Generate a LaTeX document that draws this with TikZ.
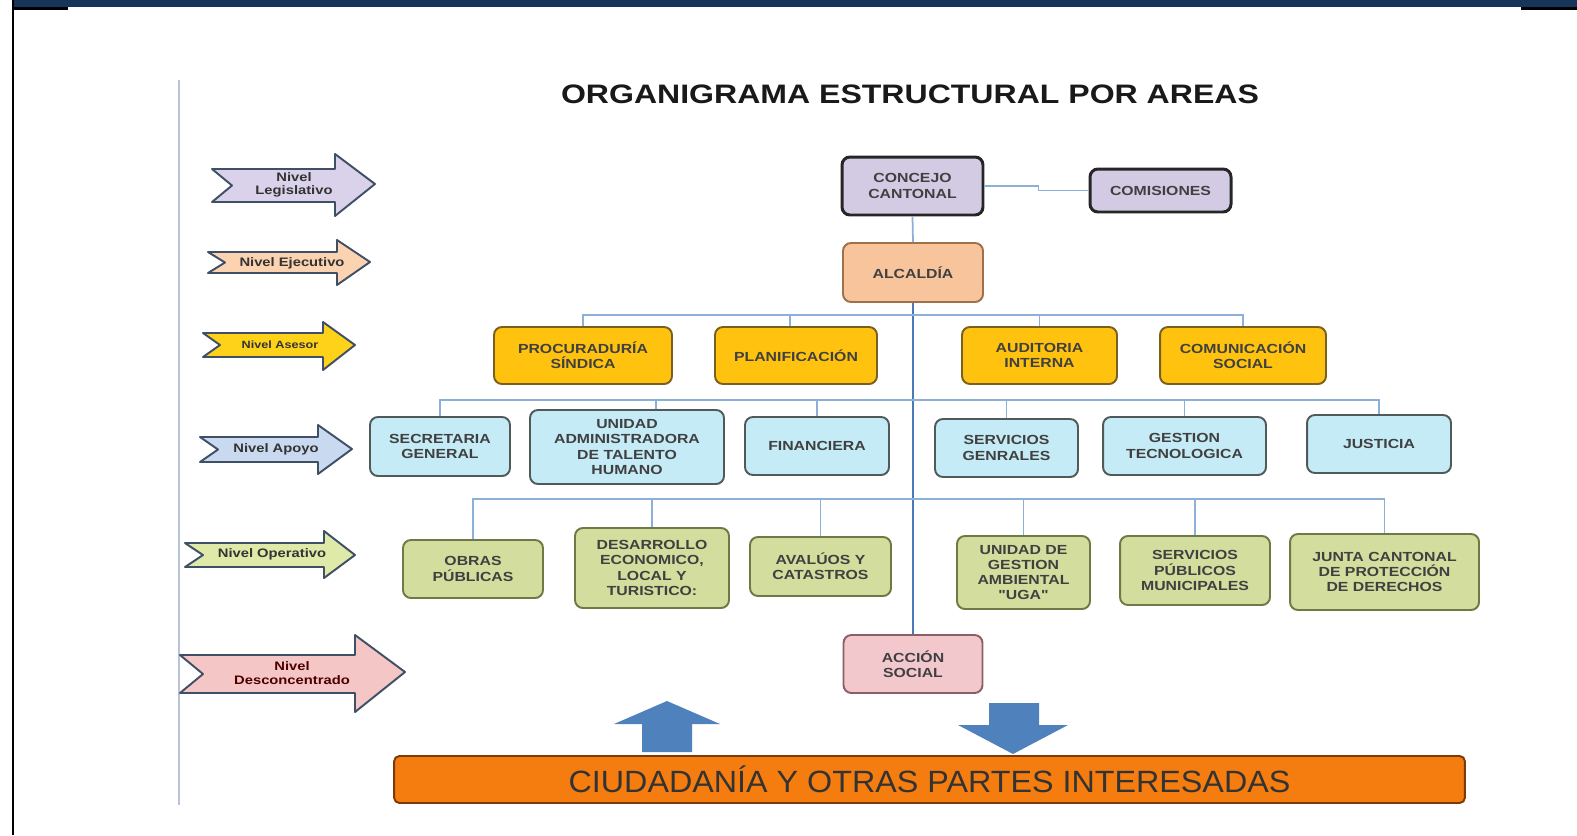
\documentclass[tikz,border=0pt]{standalone}
\usepackage{fontspec}
\setmainfont{Liberation Sans}
\newfontfamily\orgfont{Liberation Sans}[FakeStretch=1.2]
\newfontfamily\barfont{Liberation Sans}[FakeStretch=1.05]

\definecolor{headnavy}{HTML}{17345A}
\definecolor{lavbox}{HTML}{D3CBE4}
\definecolor{peachbox}{HTML}{F8C49C}
\definecolor{peachdraw}{HTML}{A0704A}
\definecolor{yellowbox}{HTML}{FFC20E}
\definecolor{yellowdraw}{HTML}{7A6020}
\definecolor{bluebox}{HTML}{C5EBF7}
\definecolor{bluedraw}{HTML}{505A5A}
\definecolor{greenbox}{HTML}{D2DD9E}
\definecolor{greendraw}{HTML}{6D7A45}
\definecolor{pinkbox}{HTML}{F2C8CD}
\definecolor{pinkdraw}{HTML}{8A6065}
\definecolor{barorange}{HTML}{F57D10}
\definecolor{bardraw}{HTML}{7A3A0A}
\definecolor{linkblue}{HTML}{8DB0D8}
\definecolor{spineblue}{HTML}{4A7AB8}
\definecolor{arrowblue}{HTML}{4F81BD}
\definecolor{leftline}{HTML}{B8C4DC}
\definecolor{nivdraw}{HTML}{3F4F66}
\definecolor{nivlegis}{HTML}{D9D2EA}
\definecolor{nivejec}{HTML}{FBD3B0}
\definecolor{nivasesor}{HTML}{FFD21A}
\definecolor{nivapoyo}{HTML}{C9D9F0}
\definecolor{nivoper}{HTML}{DFE9A8}
\definecolor{nivdescon}{HTML}{F5C6C6}

\tikzstyle{unit} = [rectangle, rounded corners=4.5pt, line width=1.1pt, align=center, text=black!75, font=\orgfont\bfseries\fontsize{7.5}{8.6}\selectfont, inner sep=1pt]
\tikzstyle{legis} = [unit, draw=black!85, line width=1.7pt, fill=lavbox]
\tikzstyle{ejec} = [unit, draw=peachdraw, fill=peachbox]
\tikzstyle{asesor} = [unit, draw=yellowdraw, fill=yellowbox]
\tikzstyle{apoyo} = [unit, draw=bluedraw, fill=bluebox]
\tikzstyle{operativo} = [unit, draw=greendraw, fill=greenbox]
\tikzstyle{descon} = [unit, draw=pinkdraw, fill=pinkbox]
\tikzstyle{link} = [line width=1pt, draw=linkblue]
\tikzstyle{spine} = [line width=1.2pt, draw=spineblue]
\tikzstyle{nivel} = [draw=nivdraw, line width=1.1pt, line join=round]
\tikzstyle{nivtext} = [align=center, font=\orgfont\bfseries\fontsize{7}{7.6}\selectfont, text=black!80]
\tikzstyle{bigarrow} = [fill=arrowblue]

\begin{document}
\begin{tikzpicture}[x=0.02cm, y=-0.02cm]
	\useasboundingbox (0,0) rectangle (1577,835);
	
	% Marco
	\fill [headnavy] (13,0) rectangle (1577,7.3);
	\fill [black] (13,7.3) rectangle (68,10);
	\fill [black] (1521,7.3) rectangle (1577,10);
	\fill [black] (12,0) rectangle (14,835);
	\draw [line width=1pt, draw=leftline] (179,80) -- (179,805);
	
	% Titulo
	\node (titulo) [font=\orgfont\bfseries\fontsize{15.2}{18}\selectfont, text=black!90] at (910,94) {ORGANIGRAMA ESTRUCTURAL POR AREAS};
	
	% Niveles (flechas)
	\draw [nivel, fill=nivlegis] (212,169) -- (335,169) -- (335,154) -- (375,184) -- (335,216) -- (335,202) -- (212,202) -- (232,185.5) -- cycle;
	\node (nlegis) [nivtext] at (294,185) {Nivel\\Legislativo};
	\draw [nivel, fill=nivejec] (208,252) -- (337,252) -- (337,240) -- (370,262) -- (337,285) -- (337,273) -- (208,273) -- (225,262.5) -- cycle;
	\node (nejec) [nivtext] at (292,263) {Nivel Ejecutivo};
	\draw [nivel, fill=nivasesor] (203,333) -- (323,333) -- (323,322) -- (355,345) -- (323,370) -- (323,357) -- (203,357) -- (220,345) -- cycle;
	\node (nasesor) [nivtext, font=\orgfont\bfseries\fontsize{6}{7}\selectfont] at (280,345) {Nivel Asesor};
	\draw [nivel, fill=nivapoyo] (200,437) -- (318,437) -- (318,425) -- (352,449) -- (318,474) -- (318,462) -- (200,462) -- (218,449.5) -- cycle;
	\node (napoyo) [nivtext] at (276,449) {Nivel Apoyo};
	\draw [nivel, fill=nivoper] (185,543) -- (324,543) -- (324,531) -- (355,555) -- (324,578) -- (324,567) -- (185,567) -- (203,555) -- cycle;
	\node (noper) [nivtext] at (272,554) {Nivel Operativo};
	\draw [nivel, fill=nivdescon] (180,655) -- (355,655) -- (355,635) -- (405,672) -- (355,712) -- (355,693) -- (180,693) -- (203,674) -- cycle;
	\node (ndescon) [nivtext, text=red!30!black] at (292,673) {Nivel\\Desconcentrado};
	
	% Nivel legislativo y ejecutivo
	\node (concejo) [legis, minimum width=2.82cm, minimum height=1.16cm] at (912.5,186) {CONCEJO\\CANTONAL};
	\node (comisiones) [legis, minimum width=2.82cm, minimum height=0.86cm] at (1160.5,190.5) {COMISIONES};
	\node (alcaldia) [ejec, minimum width=2.8cm, minimum height=1.18cm] at (913,272.5) {ALCALDÍA};
	
	% Nivel asesor
	\node (procuraduria) [asesor, minimum width=3.56cm, minimum height=1.14cm] at (583,355.5) {PROCURADURÍA\\SÍNDICA};
	\node (planificacion) [asesor, minimum width=3.24cm, minimum height=1.14cm] at (796,355.5) {PLANIFICACIÓN};
	\node (auditoria) [asesor, minimum width=3.1cm, minimum height=1.14cm] at (1039.5,355.5) {AUDITORIA\\INTERNA};
	\node (comunicacion) [asesor, minimum width=3.32cm, minimum height=1.14cm] at (1243,355.5) {COMUNICACIÓN\\SOCIAL};
	
	% Nivel apoyo
	\node (secretaria) [apoyo, minimum width=2.8cm, minimum height=1.18cm] at (440,446.5) {SECRETARIA\\GENERAL};
	\node (talento) [apoyo, minimum width=3.88cm, minimum height=1.48cm] at (627,447) {UNIDAD\\ADMINISTRADORA\\DE TALENTO\\HUMANO};
	\node (financiera) [apoyo, minimum width=2.88cm, minimum height=1.16cm] at (817,446) {FINANCIERA};
	\node (servgen) [apoyo, minimum width=2.86cm, minimum height=1.16cm] at (1006.5,448) {SERVICIOS\\GENRALES};
	\node (gestion) [apoyo, minimum width=3.26cm, minimum height=1.16cm] at (1184.5,446) {GESTION\\TECNOLOGICA};
	\node (justicia) [apoyo, minimum width=2.88cm, minimum height=1.16cm] at (1379,444) {JUSTICIA};
	
	% Nivel operativo
	\node (obras) [operativo, minimum width=2.8cm, minimum height=1.16cm] at (473,569) {OBRAS\\PÚBLICAS};
	\node (desarrollo) [operativo, minimum width=3.08cm, minimum height=1.6cm] at (652,568) {DESARROLLO\\ECONOMICO,\\LOCAL Y\\TURISTICO:};
	\node (avaluos) [operativo, minimum width=2.82cm, minimum height=1.18cm] at (820.5,566.5) {AVALÚOS Y\\CATASTROS};
	\node (uga) [operativo, minimum width=2.66cm, minimum height=1.46cm] at (1023.5,572.5) {UNIDAD DE\\GESTION\\AMBIENTAL\\"UGA"};
	\node (servpub) [operativo, minimum width=3.0cm, minimum height=1.38cm] at (1195,570.5) {SERVICIOS\\PÚBLICOS\\MUNICIPALES};
	\node (junta) [operativo, minimum width=3.78cm, minimum height=1.52cm] at (1384.5,572) {JUNTA CANTONAL\\DE PROTECCIÓN\\DE DERECHOS};
	
	% Nivel desconcentrado
	\node (accion) [descon, minimum width=2.78cm, minimum height=1.16cm] at (913,664) {ACCIÓN\\SOCIAL};
	
	% Ciudadania
	\node (ciudadania) [rectangle, rounded corners=3pt, draw=bardraw, line width=1.1pt, fill=barorange, minimum width=21.42cm, minimum height=0.94cm, font=\barfont\fontsize{17.5}{20}\selectfont, text=black!80] at (929.5,779.5) {CIUDADANÍA Y OTRAS PARTES INTERESADAS};
	\fill [bigarrow] (642,752) -- (642,724) -- (614,724) -- (667,701) -- (720,724) -- (692,724) -- (692,752) -- cycle;
	\fill [bigarrow] (989,703) -- (1039,703) -- (1039,725) -- (1068,725) -- (1013,754) -- (958,725) -- (989,725) -- cycle;
	
	% Barras de conexion
	\coordinate (bus1) at (913,315);
	\coordinate (bus2) at (913,400);
	\coordinate (bus3) at (913,499);
	
	\draw [link] (concejo.south) -- (alcaldia.north);
	\draw [link] (concejo.east) -- ++(54,0) |- (comisiones.west);
	\draw [spine] (alcaldia.south) -- (alcaldia.south |- accion.north);
	
	\draw [link] (procuraduria.north) |- (bus1);
	\draw [link] ([xshift=-0.12cm]planificacion.north) |- (bus1);
	\draw [link] (auditoria.north) |- (bus1);
	\draw [link] (comunicacion.north) |- (bus1);
	
	\draw [link] (secretaria.north) |- (bus2);
	\draw [link] ([xshift=0.58cm]talento.north) |- (bus2);
	\draw [link] (financiera.north) |- (bus2);
	\draw [link] (servgen.north) |- (bus2);
	\draw [link] (gestion.north) |- (bus2);
	\draw [link] (justicia.north) |- (bus2);
	
	\draw [link] (obras.north) |- (bus3);
	\draw [link] (desarrollo.north) |- (bus3);
	\draw [link] (avaluos.north) |- (bus3);
	\draw [link] (uga.north) |- (bus3);
	\draw [link] (servpub.north) |- (bus3);
	\draw [link] (junta.north) |- (bus3);
	
\end{tikzpicture}
\end{document}
